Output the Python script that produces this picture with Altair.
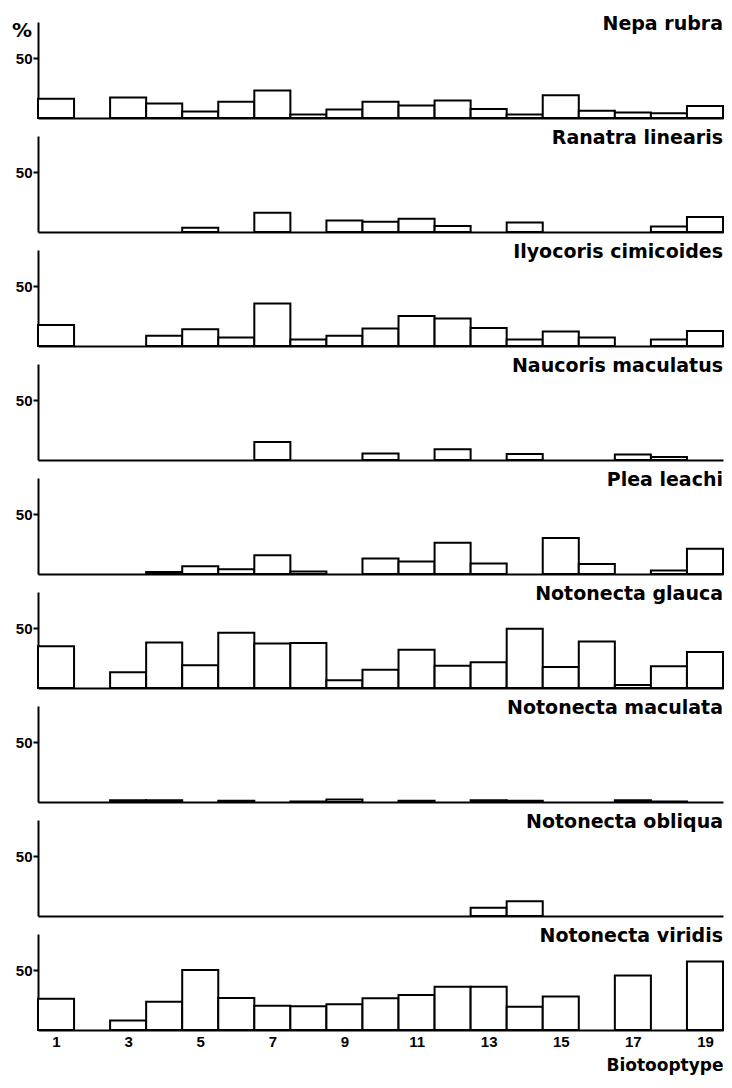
import altair as alt
import pandas as pd

biotopes = list(range(1, 20))
species = [
    "Nepa rubra", "Ranatra linearis", "Ilyocoris cimicoides", "Naucoris maculatus",
    "Plea leachi", "Notonecta glauca", "Notonecta maculata", "Notonecta obliqua",
    "Notonecta viridis",
]

nepa_rubra = [16, 0, 17, 12, 5.5, 13.5, 23, 3, 7, 13.5, 10.5, 14.5, 7.5, 3, 19, 6, 4.5, 4, 10]
ranatra_linearis = [0, 0, 0, 0, 3.5, 0, 16, 0, 9.5, 8.5, 11, 5, 0, 8, 0, 0, 0, 4.5, 12.5]
ilyocoris_cimicoides = [17.5, 0, 0, 8.5, 14, 7, 35.5, 5.5, 8.5, 14.5, 25, 23, 15, 5.5, 12, 7, 0, 5.5, 12.5]
naucoris_maculatus = [0, 0, 0, 0, 0, 0, 15, 0, 0, 5.5, 0, 9, 0, 5, 0, 0, 4.5, 2.5, 0]
plea_leachi = [0, 0, 0, 1.7, 6.4, 4, 15.7, 2, 0, 13, 10.5, 26, 8.7, 0, 30, 8.4, 0, 2.9, 21]
notonecta_glauca = [34.7, 0, 13.2, 38, 19, 46, 37, 37.6, 6.5, 15.3, 31.8, 18.5, 21.5, 49.4, 17.6, 38.8, 2.4, 18.2, 30]
notonecta_maculata = [0, 0, 1.5, 1.5, 0, 1, 0, 0.5, 2, 0, 1, 0, 1.5, 1, 0, 0, 1.5, 0.5, 0]
notonecta_obliqua = [0, 0, 0, 0, 0, 0, 0, 0, 0, 0, 0, 0, 6.8, 12.2, 0, 0, 0, 0, 0]
notonecta_viridis = [26, 0, 8, 23.6, 50, 26.7, 20.3, 19.7, 21.4, 26.4, 29.2, 36, 36, 19.4, 28, 0, 45.5, 0, 57]

series = [nepa_rubra, ranatra_linearis, ilyocoris_cimicoides, naucoris_maculatus,
          plea_leachi, notonecta_glauca, notonecta_maculata, notonecta_obliqua,
          notonecta_viridis]

x_labels = [1, 3, 5, 7, 9, 11, 13, 15, 17, 19]

W = 685
H = 96
FONT = "DejaVu Sans"

panels = []
for i, (name, vals) in enumerate(zip(species, series)):
    df = pd.DataFrame({
        "b": biotopes,
        "x0": [b - 0.5 for b in biotopes],
        "x1": [b + 0.5 for b in biotopes],
        "v": vals,
    })
    df = df[df["v"] > 0]
    last = i == len(species) - 1
    if last:
        xaxis = alt.Axis(values=x_labels, ticks=False, labelFontSize=15, labelFont="Liberation Sans",
                         labelFontWeight="bold", labelPadding=4, domainColor="black", domainWidth=2,
                         grid=False, title="Biotooptype", titleAnchor="end", titleAlign="right",
                         titleFont=FONT, titleFontSize=17, titleFontWeight="bold", titlePadding=8,
                         titleColor="black", labelColor="black")
    else:
        xaxis = alt.Axis(labels=False, ticks=False, title=None, domainColor="black", domainWidth=2,
                         grid=False, minExtent=0, maxExtent=0)
    yaxis = alt.Axis(values=[50], title=None, grid=False, domainColor="black", domainWidth=2,
                     tickColor="black", tickWidth=2, tickSize=5, labelFontSize=15,
                     labelFont="Liberation Sans", labelFontWeight="bold", labelColor="black",
                     labelPadding=1, minExtent=30, maxExtent=30)
    base = alt.Chart(df)
    bars = base.mark_rect(fill="white", stroke="black", strokeWidth=2).encode(
        x=alt.X("x0:Q", scale=alt.Scale(domain=[0.5, 19.5], nice=False, zero=False), axis=xaxis),
        x2="x1",
        y=alt.Y("v:Q", scale=alt.Scale(domain=[0, 80], nice=False), axis=yaxis),
        y2=alt.datum(0),
    )
    title = alt.Chart(pd.DataFrame({"t": [name]})).mark_text(
        align="right", baseline="alphabetic", font=FONT, fontSize=19, fontWeight="bold",
        color="black"
    ).encode(x=alt.value(W), y=alt.value(8), text="t:N")
    layers = [bars, title]
    if i == 0:
        pct = alt.Chart(pd.DataFrame({"t": ["%"]})).mark_text(
            align="center", baseline="middle", font=FONT, fontSize=20, fontWeight="bold",
            color="black"
        ).encode(x=alt.value(-16), y=alt.value(9), text="t:N")
        layers.append(pct)
    panels.append(alt.layer(*layers).properties(width=W, height=H))

chart = alt.vconcat(*panels, spacing=18, bounds="flush").properties(
    padding={"top": 7, "left": 0, "right": 0, "bottom": 2}
).configure(background="white", view=alt.ViewConfig(stroke=None))

chart.save("out.html", embed_options={"renderer": "svg", "actions": False})
